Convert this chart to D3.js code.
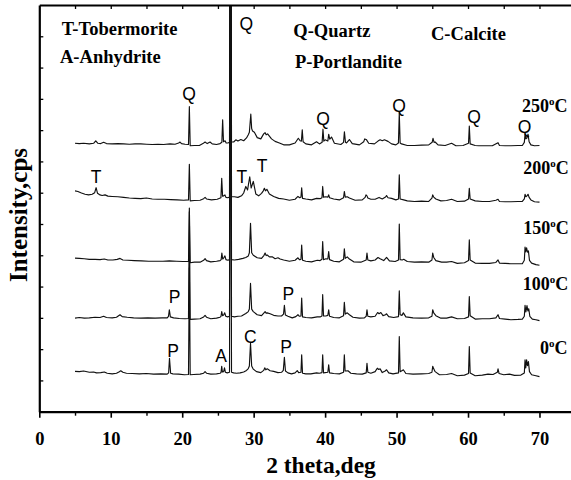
<!DOCTYPE html>
<html>
<head>
<meta charset="utf-8">
<script src="https://cdn.jsdelivr.net/npm/d3@7"></script>
<style>
  html, body { margin: 0; padding: 0; background: #fff; }
  svg { display: block; }
</style>
</head>
<body>
<svg id="chart" width="571" height="480"></svg>
<script>
// ---- XRD scans: [2theta (deg), intensity (cps, above each scan's own baseline)] ----
const scan250 = [[5.0,3],[5.6,2],[6.2,3],[7.0,1],[7.6,3],[7.9,11],[8.2,3],[8.6,2],[9.0,6],[9.4,2],[10.2,1],[11.0,2],[11.8,1],[12.6,0],[13.4,1],[14.2,1],[15.0,0],[15.8,-1],[16.6,0],[17.4,-1],[18.3,1],[19.0,0],[19.5,4],[19.7,7],[19.9,2],[20.4,0],[20.88,-1],[21.0,120],[21.12,-5],[21.7,-4],[22.4,-4],[22.9,2],[23.2,7],[23.5,2],[23.9,7],[24.2,1],[24.8,-1],[25.3,2],[25.55,6],[25.66,78],[25.78,8],[26.0,11],[26.15,4],[26.4,4],[26.62,6],[26.76,1500],[26.9,7],[27.2,7],[27.5,14],[27.8,10],[28.2,15],[28.6,11],[29.0,20],[29.25,30],[29.4,38],[29.6,96],[29.72,50],[29.85,42],[30.1,38],[30.5,21],[31.0,17],[31.4,33],[31.6,37],[31.75,30],[31.95,33],[32.5,17],[33.0,9],[33.6,4],[34.2,-2],[35.0,-2],[35.8,4],[36.25,19],[36.5,11],[36.68,10],[36.8,46],[36.92,8],[37.3,1],[38.1,-2],[38.8,8],[39.2,1],[39.58,6],[39.7,48],[39.82,10],[40.0,14],[40.38,10],[40.5,32],[40.65,16],[40.9,23],[41.3,3],[42.2,-1],[42.58,6],[42.7,40],[42.85,6],[43.0,4],[43.4,15],[43.8,2],[44.8,-2],[45.4,8],[45.55,17],[45.8,14],[46.1,3],[46.9,1],[47.4,10],[47.7,14],[48.0,11],[48.3,14],[48.8,9],[49.3,1],[49.9,-2],[50.26,4],[50.38,100],[50.5,4],[50.7,1],[51.5,-4],[52.5,-4],[53.5,-3],[54.5,-2],[54.98,6],[55.1,19],[55.25,6],[55.4,7],[55.8,-2],[56.8,-4],[57.7,3],[58.3,-5],[59.3,-4],[60.07,3],[60.18,58],[60.3,1],[61.0,-4],[61.5,-5],[62.5,-5],[63.4,-5],[64.2,5],[64.4,-4],[65.2,-5],[66.0,-5],[67.0,-4],[67.6,-4],[67.88,6],[67.98,32],[68.1,17],[68.25,20],[68.4,32],[68.55,8],[68.8,-2],[69.3,-5],[70.0,-4]];

const scan200 = [[5.0,26],[5.4,24],[5.9,19],[6.4,15],[6.9,13],[7.4,15],[7.75,20],[7.95,36],[8.15,18],[8.5,13],[8.8,11],[9.2,13],[9.6,9],[10.2,8],[11.0,7],[11.8,5],[12.6,3],[13.4,2],[14.2,1],[15.0,3],[15.8,0],[16.6,-1],[17.5,-1],[18.4,-2],[19.3,-3],[20.2,-4],[20.88,-3],[21.0,111],[21.12,-6],[21.7,-5],[22.5,-4],[23.0,1],[23.2,5],[23.4,0],[24.1,-3],[24.9,-1],[25.42,4],[25.53,66],[25.65,9],[25.82,10],[25.98,13],[26.12,5],[26.4,4],[26.62,6],[26.76,1500],[26.9,7],[27.3,7],[27.8,5],[28.3,10],[28.6,19],[28.9,40],[29.15,29],[29.45,71],[29.65,35],[29.95,56],[30.3,16],[30.7,10],[31.1,18],[31.35,26],[31.5,34],[31.65,26],[31.85,31],[32.2,16],[32.8,8],[33.5,2],[34.2,0],[35.0,-4],[35.8,-1],[36.2,8],[36.45,4],[36.62,6],[36.72,36],[36.84,2],[37.3,0],[38.1,-3],[38.8,2],[39.3,1],[39.56,4],[39.66,40],[39.78,6],[40.1,7],[40.38,6],[40.5,13],[40.62,4],[41.2,0],[42.0,-3],[42.58,4],[42.69,24],[42.82,6],[43.1,7],[43.4,3],[44.2,-4],[45.2,-3],[45.6,5],[45.72,13],[45.86,10],[45.98,3],[46.4,-1],[47.0,-1],[47.55,5],[48.0,0],[48.45,6],[48.6,11],[48.8,4],[49.3,2],[49.9,-3],[50.27,0],[50.38,77],[50.5,0],[51.0,-3],[51.5,-6],[52.5,-8],[53.5,-7],[54.5,-8],[54.95,3],[55.06,13],[55.2,6],[55.5,0],[56.2,-6],[57.0,-5],[57.7,-1],[58.5,-8],[59.5,-7],[60.07,0],[60.18,34],[60.3,0],[61.0,-6],[62.0,-8],[63.0,-8],[63.9,-4],[64.2,-1],[64.4,-8],[65.2,-9],[66.0,-9],[67.0,-8],[67.6,-8],[67.88,0],[67.98,15],[68.1,7],[68.25,10],[68.4,15],[68.55,5],[68.8,-3],[69.3,-9],[70.0,-10]];

const scan150 = [[5.0,11],[5.6,10],[6.3,9],[7.0,7],[7.8,7],[8.5,6],[9.1,8],[9.6,5],[10.3,5],[10.9,7],[11.3,10],[11.7,5],[12.4,4],[13.3,3],[14.3,2],[15.3,1],[16.3,1],[17.3,1],[18.2,2],[19.2,1],[20.1,0],[20.88,0],[21.0,171],[21.12,-4],[21.7,-2],[22.5,-2],[23.0,4],[23.2,9],[23.4,3],[24.0,-1],[24.8,1],[25.3,3],[25.45,6],[25.55,27],[25.67,8],[25.82,12],[25.98,18],[26.12,6],[26.4,4],[26.62,6],[26.76,1500],[26.9,6],[27.3,5],[27.9,7],[28.5,10],[28.9,13],[29.25,18],[29.4,28],[29.56,122],[29.72,28],[29.95,20],[30.5,12],[31.1,10],[31.45,20],[31.6,27],[31.75,19],[31.9,21],[32.2,15],[32.6,15],[33.0,9],[33.4,12],[33.7,8],[34.2,5],[35.0,1],[35.8,4],[36.2,12],[36.4,6],[36.62,7],[36.72,53],[36.84,4],[37.3,1],[38.1,-1],[38.9,4],[39.3,3],[39.56,7],[39.66,64],[39.78,6],[40.1,9],[40.38,8],[40.5,32],[40.62,6],[41.2,1],[42.0,-1],[42.58,7],[42.69,41],[42.82,10],[43.1,15],[43.4,8],[44.0,-1],[45.0,-2],[45.75,5],[45.86,27],[45.98,5],[46.4,2],[47.0,5],[47.4,13],[47.7,9],[48.2,3],[48.6,13],[49.0,2],[49.8,0],[50.27,5],[50.38,120],[50.5,6],[50.8,5],[51.0,7],[51.5,0],[52.5,-2],[53.5,-1],[54.5,-2],[54.95,5],[55.06,27],[55.2,13],[55.5,3],[56.3,-2],[57.0,-2],[57.7,0],[58.5,-6],[59.5,-4],[60.07,3],[60.18,69],[60.3,5],[61.0,-5],[62.0,-6],[63.0,-6],[63.9,-3],[64.2,5],[64.4,-5],[65.2,-6],[66.0,-7],[67.0,-7],[67.6,-7],[67.88,4],[67.98,46],[68.08,31],[68.2,44],[68.32,30],[68.45,34],[68.6,4],[68.9,-5],[69.5,-10],[70.0,-12]];

const scan100 = [[5.0,-1],[5.6,1],[6.3,-1],[7.0,0],[7.8,2],[8.5,1],[9.0,5],[9.4,1],[10.2,0],[10.8,2],[11.3,10],[11.6,4],[12.3,2],[13.2,0],[14.2,-1],[15.2,0],[16.2,-1],[17.2,0],[17.9,0],[18.08,5],[18.2,26],[18.34,3],[18.8,0],[19.6,-2],[20.4,-3],[20.88,-2],[21.0,339],[21.12,-5],[21.7,-4],[22.5,-3],[23.0,3],[23.2,8],[23.4,2],[24.0,-3],[24.8,-1],[25.3,2],[25.43,5],[25.53,20],[25.65,7],[25.8,9],[25.95,16],[26.1,5],[26.35,3],[26.62,5],[26.76,1500],[26.9,5],[27.3,3],[27.8,5],[28.3,6],[28.9,14],[29.25,20],[29.4,28],[29.56,110],[29.72,28],[29.95,20],[30.5,10],[31.1,7],[31.45,16],[31.6,20],[31.75,15],[31.9,16],[32.3,13],[32.8,8],[33.4,6],[33.9,6],[34.18,12],[34.3,40],[34.44,9],[34.8,5],[35.4,0],[35.9,4],[36.2,10],[36.4,5],[36.62,6],[36.72,63],[36.84,3],[37.3,1],[38.1,0],[38.9,3],[39.3,3],[39.56,6],[39.66,74],[39.78,6],[40.1,6],[40.38,8],[40.5,26],[40.62,5],[41.2,1],[42.0,0],[42.58,7],[42.69,50],[42.82,12],[43.1,16],[43.4,10],[43.9,2],[44.8,-1],[45.5,0],[45.75,5],[45.86,26],[45.98,5],[46.4,3],[47.0,5],[47.35,17],[47.55,13],[47.8,17],[48.1,7],[48.45,10],[48.6,13],[48.9,4],[49.6,1],[50.27,4],[50.38,86],[50.5,10],[50.75,8],[50.95,16],[51.3,3],[52.3,0],[53.5,-1],[54.5,0],[54.95,5],[55.06,26],[55.2,16],[55.5,7],[56.2,-1],[57.0,-1],[57.7,3],[58.5,-3],[59.5,-2],[60.07,3],[60.18,68],[60.3,7],[61.0,-4],[62.0,-3],[63.0,-3],[63.9,0],[64.2,10],[64.4,-2],[65.2,-4],[66.0,-6],[67.0,-5],[67.6,-4],[67.88,5],[67.98,40],[68.1,19],[68.25,39],[68.38,22],[68.5,29],[68.65,5],[69.0,-4],[69.5,-6],[70.0,-9]];

const scan0 = [[5.0,9],[5.6,8],[6.2,10],[7.0,6],[7.6,7],[8.0,4],[8.6,5],[9.1,7],[9.5,3],[10.2,1],[10.8,3],[11.2,8],[11.4,11],[11.7,6],[12.2,3],[13.0,2],[14.0,1],[15.0,2],[16.0,0],[17.0,1],[17.9,0],[18.1,4],[18.22,51],[18.38,3],[18.7,1],[19.5,0],[20.3,-2],[20.88,-1],[21.0,340],[21.12,-2],[21.6,-1],[22.5,0],[23.0,3],[23.2,8],[23.4,3],[24.0,0],[24.8,1],[25.3,3],[25.43,5],[25.53,25],[25.63,7],[25.8,8],[25.92,20],[26.05,6],[26.3,4],[26.62,6],[26.76,1500],[26.9,6],[27.2,4],[27.6,3],[28.1,4],[28.6,7],[29.0,12],[29.25,18],[29.4,26],[29.56,99],[29.72,26],[29.95,16],[30.4,8],[31.0,5],[31.4,12],[31.55,20],[31.7,14],[31.9,17],[32.3,11],[32.8,9],[33.4,5],[33.9,6],[34.15,12],[34.3,54],[34.45,10],[34.8,4],[35.3,1],[35.8,4],[36.1,11],[36.3,5],[36.62,6],[36.72,62],[36.84,3],[37.3,1],[38.0,1],[38.8,4],[39.2,3],[39.56,5],[39.66,62],[39.78,4],[40.38,6],[40.5,30],[40.62,4],[41.2,2],[42.0,1],[42.58,6],[42.69,62],[42.8,10],[43.2,11],[43.6,3],[44.4,1],[45.2,0],[45.75,4],[45.86,35],[45.98,6],[46.4,3],[47.0,8],[47.3,19],[47.5,15],[47.7,17],[48.0,5],[48.4,10],[48.6,14],[48.9,4],[49.5,1],[50.27,4],[50.38,120],[50.5,8],[50.8,12],[50.95,14],[51.3,2],[52.3,0],[53.5,1],[54.5,2],[54.95,6],[55.06,25],[55.2,17],[55.4,8],[56.0,-2],[57.0,-1],[57.7,2],[58.5,-5],[59.5,-3],[60.07,2],[60.18,88],[60.3,4],[61.0,-5],[62.0,-3],[62.8,0],[63.5,-1],[64.1,6],[64.2,17],[64.35,2],[65.0,-2],[65.8,0],[66.5,-4],[67.4,-3],[67.88,4],[67.98,46],[68.08,20],[68.2,46],[68.32,27],[68.45,40],[68.6,8],[68.9,-2],[69.5,-5],[70.0,-8]];

// curing temperatures (deg C) and the vertical stacking offset of each scan (cps)
const temperatures = ["250", "200", "150", "100", "0"];
const stackOffsets = [855, 680, 480, 300, 120];
const scans = [scan250, scan200, scan150, scan100, scan0];

// axis ticks
const xMajorTicks = [0, 10, 20, 30, 40, 50, 60, 70];
const xMinorTicks = [5, 15, 25, 35, 45, 55, 65];
const yTicks = [100, 200, 300, 400, 500, 600, 700, 800, 900, 1000, 1100, 1200];

// phase key
const phaseKey = ["T-Tobermorite", "A-Anhydrite", "Q-Quartz", "P-Portlandite", "C-Calcite"];

// peak identifications: [letter, 2theta, intensity level of the letter's baseline]
const peakLabels = [
  ["Q", 20.95, 996], ["Q", 28.97, 1221], ["Q", 39.7, 917], ["Q", 50.34, 959], ["Q", 60.84, 922], ["Q", 67.9, 890],
  ["T", 7.94, 730], ["T", 28.33, 730], ["T", 31.17, 767],
  ["P", 18.92, 347], ["P", 34.85, 357],
  ["P", 18.71, 176], ["A", 25.43, 160], ["C", 29.53, 219], ["P", 34.53, 187]
];

// ---- drawing ----
const svg = d3.select("#chart");
const serif = "'Liberation Serif', 'Times New Roman', serif";
const sans = "'Liberation Sans', Arial, sans-serif";

const x = d3.scaleLinear().domain([0, 75]).range([39.3, 575.2]);
const y = d3.scaleLinear().domain([0, 1300]).range([411.7, 5]);

svg.append("clipPath").attr("id", "plotArea")
  .append("rect")
  .attr("x", x(0)).attr("y", y(1300))
  .attr("width", x(75) - x(0)).attr("height", y(0) - y(1300));

// scans
const traces = svg.append("g").attr("clip-path", "url(#plotArea)");
scans.forEach((scan, i) => {
  const off = stackOffsets[i];
  const line = d3.line().x(d => x(d[0])).y(d => y(d[1] + off));
  traces.append("path")
    .datum(scan)
    .attr("d", line)
    .attr("fill", "none")
    .attr("stroke", "#111")
    .attr("stroke-width", 1.15)
    .attr("stroke-linejoin", "round");
});

// bottom axis with labels
const xAxis = svg.append("g")
  .attr("transform", `translate(0,${y(0)})`)
  .call(d3.axisBottom(x).tickValues(xMajorTicks).tickSize(6).tickSizeOuter(0).tickPadding(14).tickFormat(d3.format("d")));
xAxis.select(".domain").attr("stroke", "#000").attr("stroke-width", 2.2);
xAxis.selectAll(".tick line").attr("stroke", "#000").attr("stroke-width", 1.6);
xAxis.selectAll(".tick text")
  .attr("font-family", serif).attr("font-weight", "bold").attr("font-size", "18.5px").attr("fill", "#000");

// bottom minor ticks
const xMinor = svg.append("g")
  .attr("transform", `translate(0,${y(0)})`)
  .call(d3.axisBottom(x).tickValues(xMinorTicks).tickSize(4).tickSizeOuter(0).tickFormat(""));
xMinor.select(".domain").remove();
xMinor.selectAll(".tick line").attr("stroke", "#000").attr("stroke-width", 1.4);

// top frame with inward ticks
const topAxis = svg.append("g")
  .attr("transform", `translate(0,${y(1300)})`)
  .call(d3.axisBottom(x).tickValues(xMinorTicks.concat(xMajorTicks.slice(1))).tickSize(4).tickSizeOuter(0).tickFormat(""));
topAxis.select(".domain").attr("stroke", "#000").attr("stroke-width", 1.8);
topAxis.selectAll(".tick line").attr("stroke", "#000").attr("stroke-width", 1.3);

// left axis with inward ticks, no labels
const yAxis = svg.append("g")
  .attr("transform", `translate(${x(0)},0)`)
  .call(d3.axisRight(y).tickValues(yTicks).tickSize(4).tickSizeOuter(0).tickFormat(""));
yAxis.select(".domain").attr("stroke", "#000").attr("stroke-width", 2.2);
yAxis.selectAll(".tick line").attr("stroke", "#000").attr("stroke-width", 1.3);

// axis titles
svg.append("text")
  .attr("x", 321).attr("y", 473)
  .attr("text-anchor", "middle")
  .attr("font-family", serif).attr("font-weight", "bold").attr("font-size", "23.5px")
  .text("2 theta,deg");

svg.append("text")
  .attr("transform", "translate(26.5,215) rotate(-90)")
  .attr("text-anchor", "middle")
  .attr("font-family", serif).attr("font-weight", "bold").attr("font-size", "25px")
  .text("Intensity,cps");

// phase key
const keyPos = [[61.7, 35], [60, 63.3], [293.3, 36.7], [295, 68.3], [431, 40]];
phaseKey.forEach((t, i) => {
  svg.append("text")
    .attr("x", keyPos[i][0]).attr("y", keyPos[i][1])
    .attr("font-family", serif).attr("font-weight", "bold").attr("font-size", "18.5px")
    .text(t);
});

// temperature labels
const tempPos = [[522, 112], [523.3, 174], [523.3, 233.5], [522.7, 290], [540, 353.5]];
temperatures.forEach((t, i) => {
  const txt = svg.append("text")
    .attr("x", tempPos[i][0]).attr("y", tempPos[i][1])
    .attr("font-family", serif).attr("font-weight", "bold").attr("font-size", "18px");
  txt.append("tspan").text(t);
  txt.append("tspan").attr("font-size", "11px").attr("dy", -7).text("o");
  txt.append("tspan").attr("dy", 7).text("C");
});

// peak letters
peakLabels.forEach(([letter, tt, level]) => {
  svg.append("text")
    .attr("x", x(tt)).attr("y", y(level))
    .attr("text-anchor", "middle")
    .attr("font-family", sans).attr("font-size", "17.5px")
    .text(letter);
});
</script>
</body>
</html>
